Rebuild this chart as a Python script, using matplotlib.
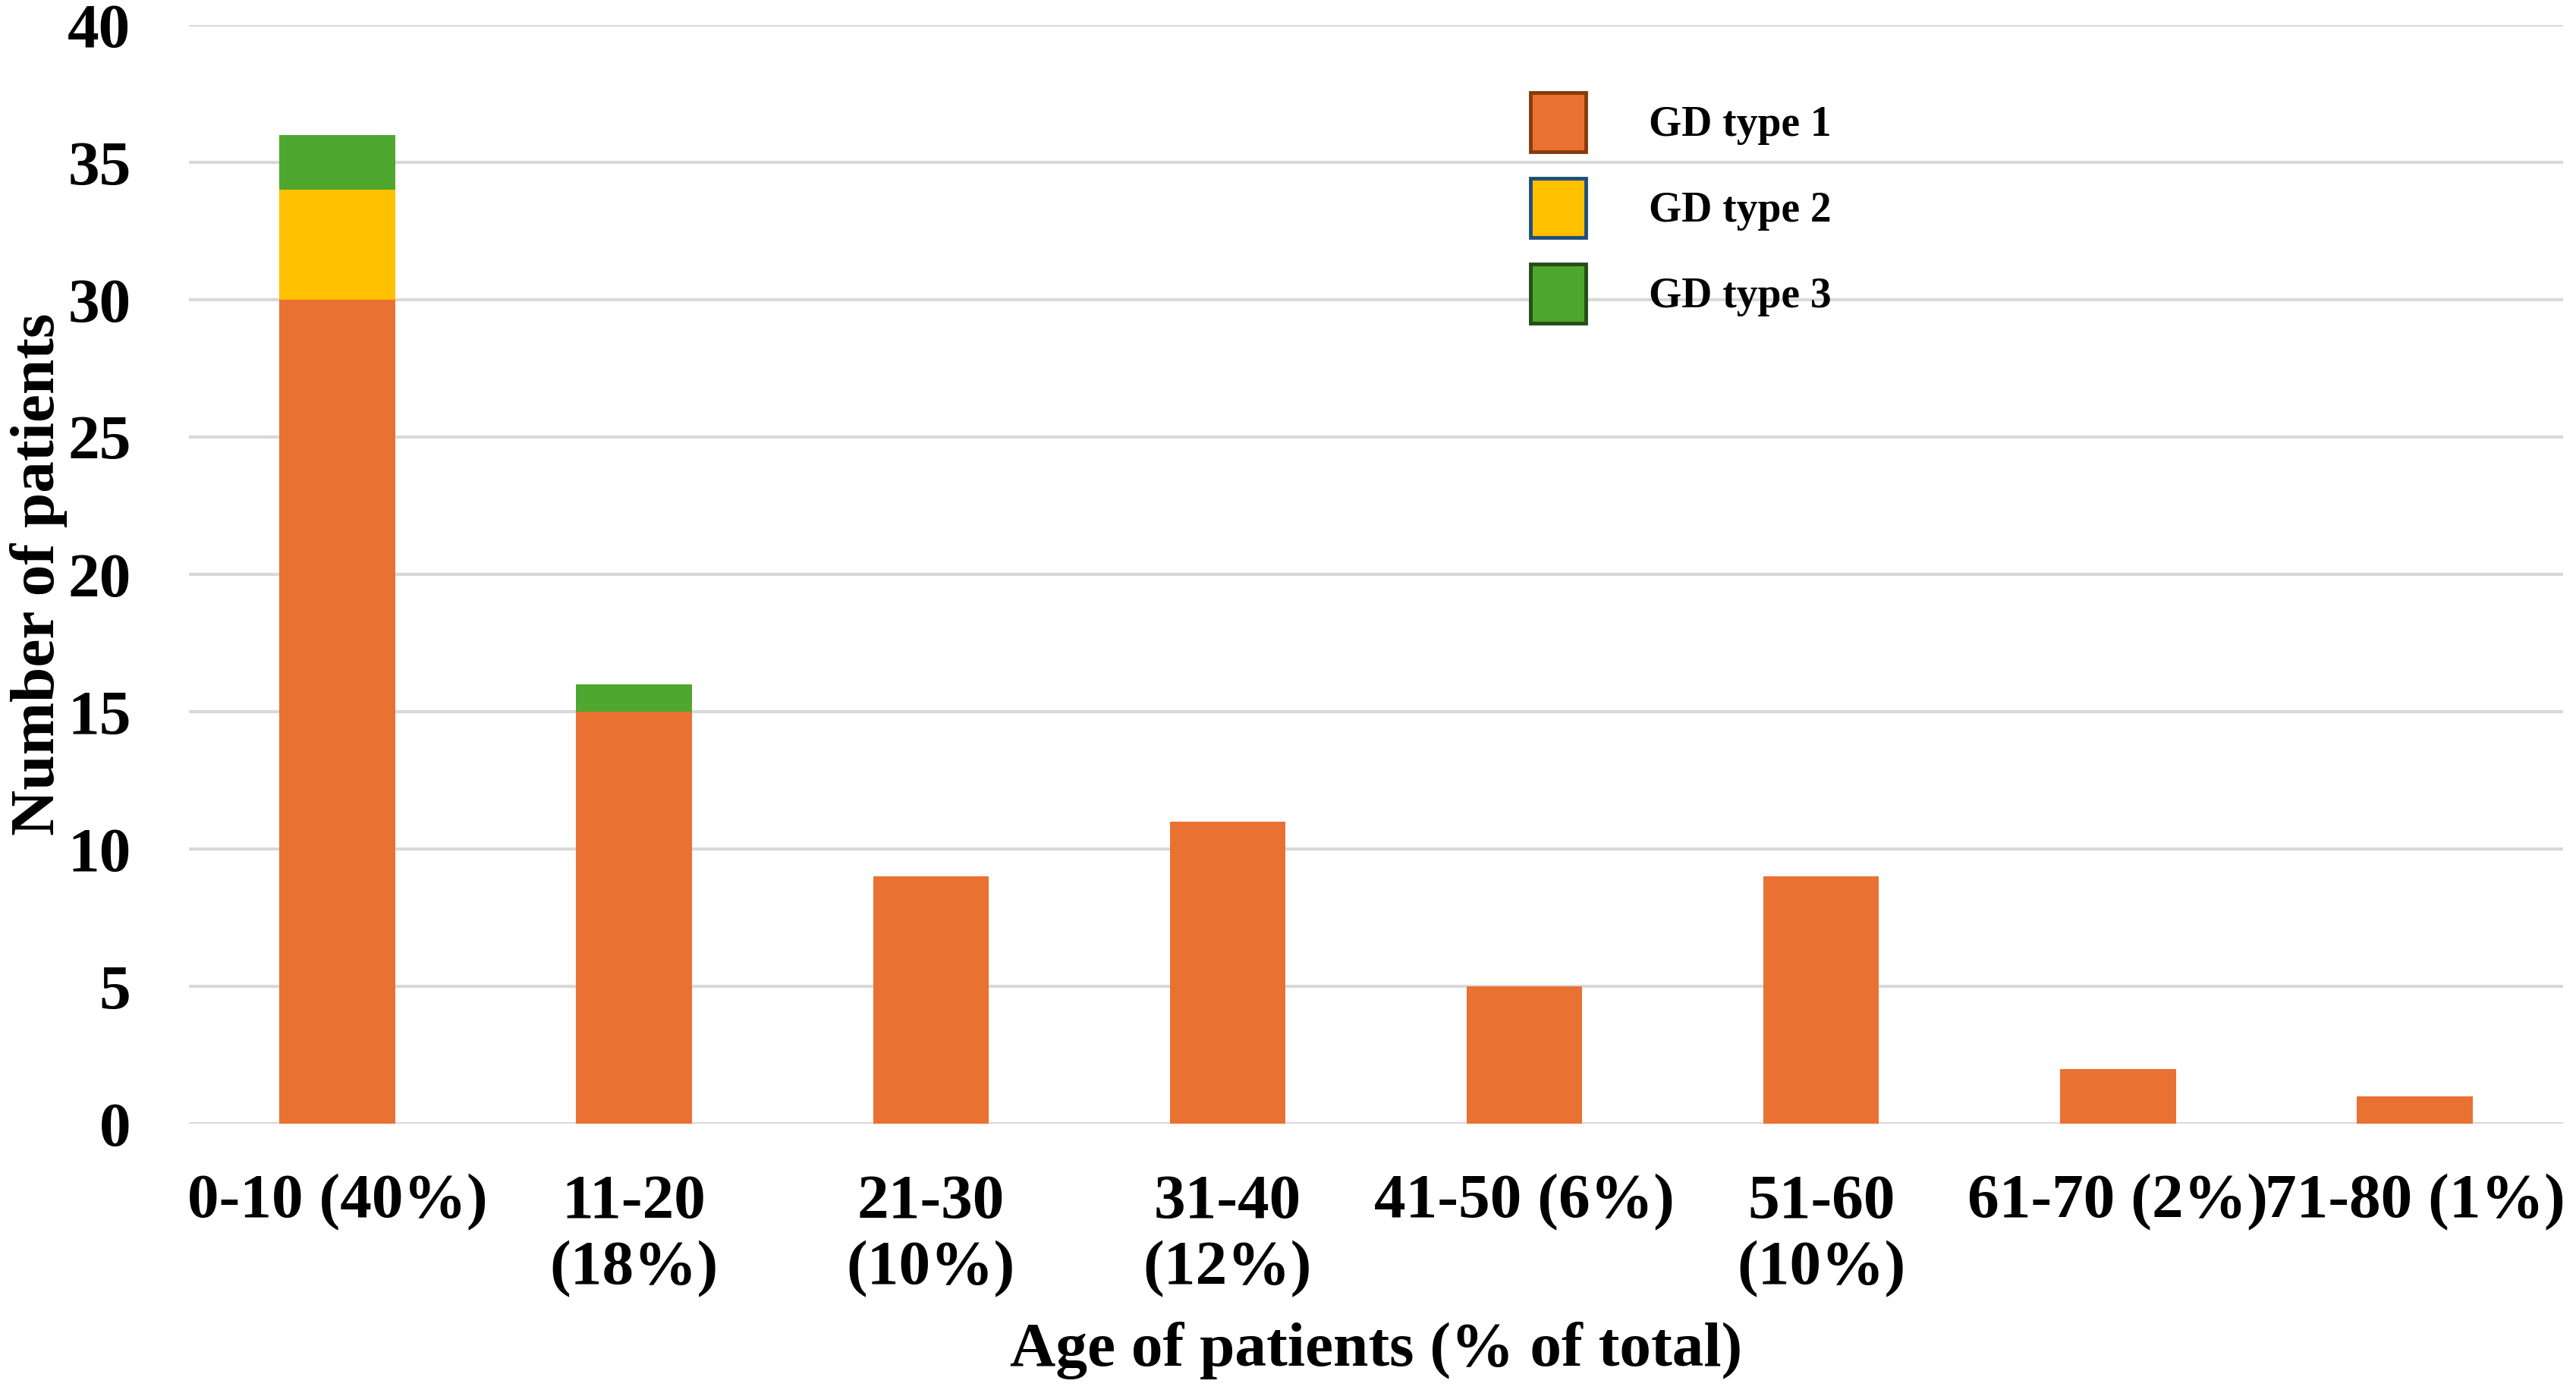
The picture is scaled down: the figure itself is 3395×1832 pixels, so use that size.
import matplotlib
matplotlib.use("Agg")
import matplotlib.pyplot as plt
import numpy as np
from matplotlib.patches import Patch

categories = ["0-10 (40%)", "11-20\n(18%)", "21-30\n(10%)", "31-40\n(12%)",
              "41-50 (6%)", "51-60\n(10%)", "61-70 (2%)", "71-80 (1%)"]
gd_type1 = [30, 15, 9, 11, 5, 9, 2, 1]
gd_type2 = [4, 0, 0, 0, 0, 0, 0, 0]
gd_type3 = [2, 1, 0, 0, 0, 0, 0, 0]
series_names = ["GD type 1", "GD type 2", "GD type 3"]
yticks = [0, 5, 10, 15, 20, 25, 30, 35, 40]

colors = ["#E97132", "#FFC000", "#4EA72E"]
edges = ["#843C0C", "#1F4E79", "#264D16"]

plt.rcParams['font.family'] = ['Liberation Serif', 'DejaVu Serif']
plt.rcParams['font.weight'] = 'bold'

fig = plt.figure(figsize=(33.95, 18.32), dpi=100)
ax = fig.add_axes([249/3395, 1-1481/1832, (3378-249)/3395, (1481-33)/1832])

x = np.arange(len(categories))
w = 0.39
b1 = np.array(gd_type1)
b2 = b1 + np.array(gd_type2)
ax.bar(x, gd_type1, width=w, color=colors[0], zorder=3)
ax.bar(x, gd_type2, width=w, bottom=b1, color=colors[1], zorder=3)
ax.bar(x, gd_type3, width=w, bottom=b2, color=colors[2], zorder=3)

ax.set_xlim(-0.5, len(categories) - 0.5)
ax.set_ylim(0, 40)
ax.set_yticks(yticks)
ax.set_xticks(x)
ax.set_xticklabels(categories, fontsize=60, fontweight='bold', linespacing=1.22)
ax.tick_params(axis='both', length=0)
ax.tick_params(axis='x', pad=48)
ax.tick_params(axis='y', pad=55)
for lab in ax.get_yticklabels():
    lab.set_fontsize(60)
    lab.set_fontweight('bold')
ax.yaxis.grid(True, color="#D9D9D9", linewidth=3, zorder=0)
ax.set_axisbelow(True)
for s in ax.spines.values():
    s.set_visible(False)

ax.set_xlabel("Age of patients (% of total)", fontsize=60, fontweight='bold', labelpad=23)
ax.set_ylabel("Number of patients", fontsize=60, fontweight='bold', labelpad=0)

handles = [Patch(facecolor=c, edgecolor=e, linewidth=3.5) for c, e in zip(colors, edges)]
leg = ax.legend(handles, series_names, loc='upper left', bbox_to_anchor=(2017/3395, 1-122/1832),
                bbox_transform=fig.transFigure, frameon=False,
                prop={'family': ['Liberation Serif'], 'weight': 'bold', 'size': 40},
                handlelength=1.31, handleheight=1.78, labelspacing=0.63, handletextpad=1.5,
                borderpad=0, borderaxespad=0)

fig.savefig("out.png", dpi=100, facecolor='white')
